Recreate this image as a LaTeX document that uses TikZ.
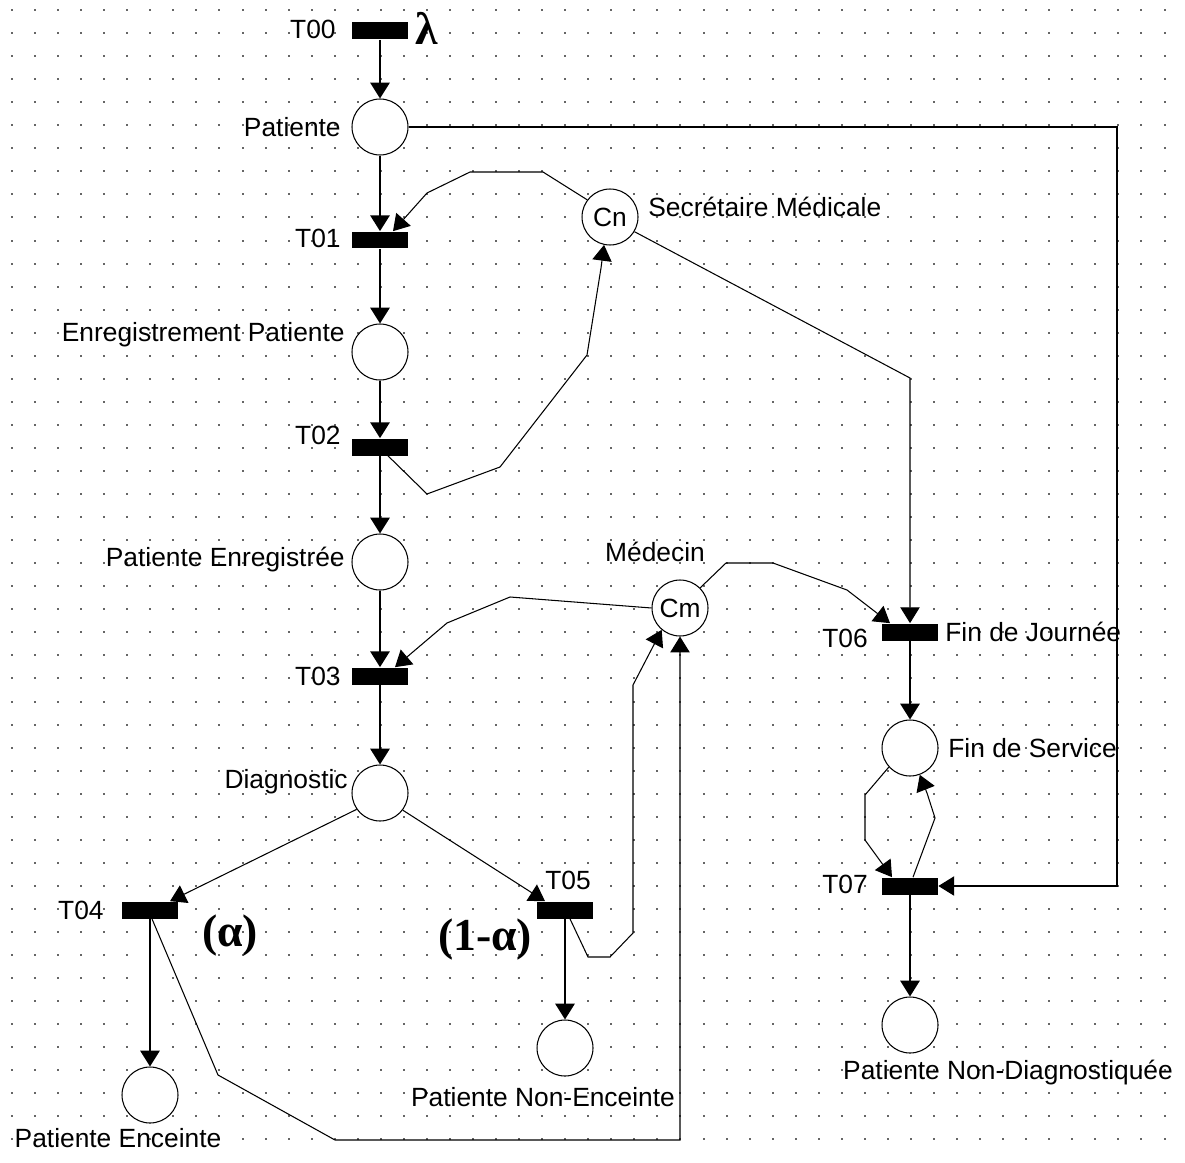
\documentclass[tikz,border=0pt]{standalone}
\usepackage{fontspec}
\setmainfont{Liberation Sans}
\newfontfamily\timesfont{Liberation Serif}
\usetikzlibrary{arrows.meta}
\tikzset{
  place/.style={circle,draw,fill=white,line width=0.6pt,minimum size=1.12cm,inner sep=0pt,
    font=\fontsize{15}{17}\selectfont},
  trans/.style={rectangle,fill=black,minimum width=1.12cm,minimum height=0.34cm,inner sep=0pt},
  lbl/.style={inner sep=0pt,font=\fontsize{15}{17}\selectfont},
  greek/.style={inner sep=0pt,font=\timesfont\bfseries\fontsize{26}{29}\selectfont},
  flow/.style={-{Triangle[length=9pt,width=11pt]},line width=1.1pt},
  arc/.style={-{Triangle[length=9pt,width=11pt]},line width=0.6pt},
}
\begin{document}
\begin{tikzpicture}[x=0.02cm,y=-0.02cm]
  \useasboundingbox (0,0) rectangle (1185,1162);
  \foreach \i in {0,...,50}
    \foreach \j in {0,...,49}
      \fill[gray!80!black] (11+23.05*\i,9+23.05*\j) rectangle ++(2,2);

  \node[trans] (t00) at (380,31) {};
  \node[trans] (t01) at (380,240) {};
  \node[trans] (t02) at (380,447) {};
  \node[trans] (t03) at (380,676) {};
  \node[trans] (t04) at (150,910) {};
  \node[trans] (t05) at (565,910) {};
  \node[trans] (t06) at (910,632) {};
  \node[trans] (t07) at (910,886) {};

  \node[place] (patiente) at (380,127) {};
  \node[place] (enreg) at (380,352) {};
  \node[place] (penreg) at (380,562) {};
  \node[place] (diag) at (380,793) {};
  \node[place] (cn) at (610,217) {Cn};
  \node[place] (cm) at (680,608) {Cm};
  \node[place] (finserv) at (910,748) {};
  \node[place] (penc) at (150,1095) {};
  \node[place] (pnonenc) at (565,1048) {};
  \node[place] (pnondiag) at (910,1025) {};

  \node[lbl,anchor=east] (lt00) at (336,29) {T00};
  \node[greek] (llambda) at (427,28) {λ};
  \node[lbl,anchor=east] (lpatiente) at (341,127) {Patiente};
  \node[lbl,anchor=east] (lt01) at (341,238) {T01};
  \node[lbl,anchor=west] (lsecr) at (648,207) {Secrétaire Médicale};
  \node[lbl,anchor=east] (lenreg) at (345,335) {Enregistrement Patiente};
  \node[lbl,anchor=east] (lt02) at (341,435) {T02};
  \node[lbl,anchor=east] (lpenreg) at (345,560) {Patiente Enregistrée};
  \node[lbl] (lmedecin) at (655,552) {Médecin};
  \node[lbl,anchor=east] (lt03) at (341,676) {T03};
  \node[lbl,anchor=east] (lt06) at (868,638) {T06};
  \node[lbl,anchor=west] (lfinjour) at (945,632) {Fin de Journée};
  \node[lbl,anchor=west] (lfinserv) at (948,748) {Fin de Service};
  \node[lbl,anchor=east] (ldiag) at (348,782) {Diagnostic};
  \node[lbl,anchor=east] (lt04) at (104,910) {T04};
  \node[lbl] (lt05) at (568,880) {T05};
  \node[greek] (lalpha) at (230,935) {(α)};
  \node[greek] (lunmoins) at (485,940) {(1-α)};
  \node[lbl,anchor=east] (lt07) at (868,884) {T07};
  \node[lbl] (lpenc) at (118,1138) {Patiente Enceinte};
  \node[lbl] (lpnonenc) at (543,1097) {Patiente Non-Enceinte};
  \node[lbl] (lpnondiag) at (1008,1073) {Patiente Non-Diagnostiquée};

  \begin{scope}[flow]
    \draw (t00) -- (patiente);
    \draw (patiente) -- (t01);
    \draw (t01) -- (enreg);
    \draw (enreg) -- (t02);
    \draw (t02) -- (penreg);
    \draw (penreg) -- (t03);
    \draw (t03) -- (diag);
    \draw (t04) -- (penc);
    \draw (t05) -- (pnonenc);
    \draw (t06) -- (finserv);
    \draw (t07) -- (pnondiag);
  \end{scope}
  \begin{scope}[arc]
    \draw (cn.143) -- (543,172) -- (470,172) -- (427,193) -- ([xshift=0.26cm]t01.north);
    \draw ([xshift=0.16cm]t02.south) -- (427,494) -- (500,467) -- (587,355) -- (601,268) -- (cn.258);
    \draw (cn.-31) -- (910,378) -- (t06.north);
    \draw (cm.west) -- (510,597) -- (447,623) -- ([xshift=0.3cm]t03.north);
    \draw (cm.45) -- (726,563) -- (773,563) -- (847,590) -- ([xshift=-0.4cm]t06.north);
    \draw (diag.215) -- ([xshift=0.4cm]t04.north);
    \draw (diag.323) -- ([xshift=-0.4cm]t05.north);
    \draw ([xshift=0.04cm]t04.south) -- (218,1075) -- (335,1140) -- (680,1140) -- (cm.south);
    \draw ([xshift=0.1cm]t05.south) -- (588,957) -- (610,957) -- (633,933) -- (633,685) -- (cm.230);
    \draw (finserv.222) -- (865,795) -- (865,840) -- ([xshift=-0.36cm]t07.north);
    \draw ([xshift=0.06cm]t07.north) -- (935,818) -- (927,793) -- (finserv.290);
    \draw (patiente.east) -- (1117,127) |- (t07.east);
  \end{scope}
\end{tikzpicture}
\end{document}
